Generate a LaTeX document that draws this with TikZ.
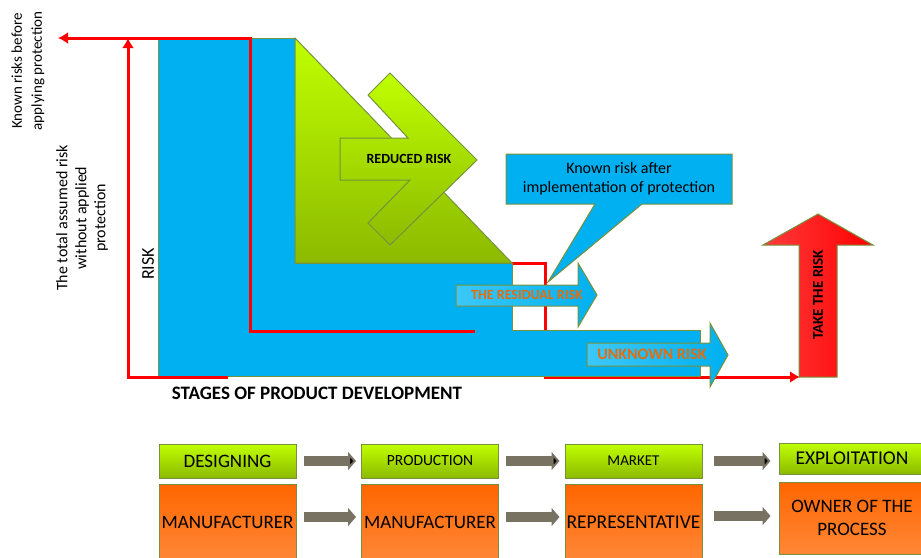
\documentclass[tikz,border=0pt]{standalone}
\usepackage{fontspec}
\setmainfont{Carlito}
\usetikzlibrary{arrows.meta}
\definecolor{skyfill}{RGB}{0,176,240}
\definecolor{skylight}{RGB}{60,200,250}
\definecolor{limetop}{RGB}{192,255,0}
\definecolor{limebot}{RGB}{140,186,0}
\definecolor{edgeolive}{RGB}{118,146,60}
\definecolor{orangetop}{RGB}{255,102,0}
\definecolor{orangebot}{RGB}{255,135,55}
\definecolor{riskred}{RGB}{255,0,0}
\definecolor{risklight}{RGB}{255,60,60}
\definecolor{labelorange}{RGB}{228,108,10}
\definecolor{flowgray}{RGB}{120,114,98}
\tikzset{
  stagebox/.style={draw=edgeolive,line width=1pt,top color=limetop,bottom color=limebot,minimum width=137pt,minimum height=34pt,inner sep=0pt,font=\fontsize{19}{22}\selectfont},
  rolebox/.style={draw=edgeolive,line width=1pt,top color=orangetop,bottom color=orangebot,minimum width=137pt,minimum height=76pt,inner sep=0pt,align=center,font=\fontsize{19}{23}\selectfont},
  flow/.style={draw=flowgray,line width=10pt,-{Triangle[width=18pt,length=8pt]},shorten <=7pt,shorten >=5pt},
  redline/.style={draw=riskred,line width=3pt,-{Latex[length=10pt,width=12pt]}},
  greenpart/.style={draw=edgeolive,line width=1pt,top color=limetop,bottom color=limebot},
  bluepart/.style={draw=edgeolive,line width=1pt,fill=skyfill},
  bluearrow/.style={draw=edgeolive,line width=1pt,left color=skylight,right color=skyfill},
  riskarrow/.style={draw=edgeolive,line width=1pt,left color=risklight,right color=riskred},
  sidetext/.style={rotate=90,align=center,inner sep=0pt},
  arrowtext/.style={text=labelorange,font=\bfseries\fontsize{14}{16}\selectfont,inner sep=0pt}
}
\begin{document}
\begin{tikzpicture}[x=1pt,y=-1pt,line join=miter]
%%
  \useasboundingbox (0,0) rectangle (921,557);
  \draw [redline] (512,263) -| (545,377) -- (800,377);
  \path [bluepart] (158,38) -- (295,38) -- (295,263) -- (512,263) -- (512,330) -- (700,330) -- (700,376) -- (158,376) -- cycle;
  \draw [redline] (228,377) -| (128,38);
  \draw [redline] (475,331) -| (250,38) -- (58,38);
  \path [greenpart] (295,38) -- (295,263) -- (512,263) -- cycle;
  \path [greenpart] (340,138) -- (408,138) -- (368,95) -- (390,73) -- (477,160) -- (390,245) -- (368,223) -- (410,180) -- (340,180) -- cycle;
  \node [inner sep=0pt,font=\bfseries\fontsize{14}{16}\selectfont] (reduced) at (409,159) {REDUCED RISK};
  \path [bluepart] (506,154) -- (732,154) -- (732,204) -- (642,204) -- (548,282) -- (595,204) -- (506,204) -- cycle;
  \node [align=center,inner sep=0pt,font=\fontsize{16}{19}\selectfont] (known_after) at (619,179) {Known risk after\\implementation of protection};
  \path [bluearrow] (456,285) -- (578,285) -- (578,263) -- (597,295) -- (578,327) -- (578,306) -- (456,306) -- cycle;
  \node [arrowtext] (residual) at (527,295) {THE RESIDUAL RISK};
  \path [bluearrow] (587,343) -- (710,343) -- (710,323) -- (728,355) -- (710,387) -- (710,366) -- (587,366) -- cycle;
  \node [arrowtext,font=\bfseries\fontsize{16}{18}\selectfont] (unknown) at (652,354) {UNKNOWN RISK};
  \path [riskarrow] (799,377) -- (837,377) -- (837,245) -- (873,245) -- (818,214) -- (763,245) -- (799,245) -- cycle;
  \node [sidetext,font=\bfseries\fontsize{15}{17}\selectfont] (take) at (818,295) {TAKE THE RISK};
  \node [sidetext,font=\fontsize{15}{20}\selectfont] (known_before) at (28,71) {Known risks before\\applying protection};
  \node [sidetext,font=\fontsize{16}{19}\selectfont] (total) at (82,218) {The total assumed risk\\without applied\\protection};
  \node [sidetext,font=\fontsize{18}{21}\selectfont] (risk) at (148,264) {RISK};
  \node [inner sep=0pt,font=\bfseries\fontsize{19}{22}\selectfont] (stages) at (317,393) {STAGES OF PRODUCT DEVELOPMENT};
%% stages and roles
  \node [stagebox] (stage_0) at (227.5,461) {DESIGNING};
  \node [stagebox,font=\fontsize{15.5}{18}\selectfont] (stage_1) at (430,461) {PRODUCTION};
  \node [stagebox,font=\fontsize{15}{18}\selectfont] (stage_2) at (633.5,461) {MARKET};
  \node [stagebox,minimum width=146pt,minimum height=31pt,font=\fontsize{19.5}{22}\selectfont] (stage_3) at (852,458.5) {EXPLOITATION};
  \node (role_0) at (227.5,522) [rolebox] {MANUFACTURER};
  \node (role_1) at (430,522) [rolebox] {MANUFACTURER};
  \node (role_2) at (633.5,522) [rolebox,font=\fontsize{19.5}{23}\selectfont] {REPRESENTATIVE};
  \node (role_3) at (852,518) [rolebox,minimum width=146pt,minimum height=72pt] {OWNER OF THE\\PROCESS};
  \draw [flow] (stage_0) edge (stage_1);
  \draw [flow] (stage_1) edge (stage_2);
  \draw [flow] (stage_2) edge [shorten <=11pt,shorten >=8pt] (stage_2 -| stage_3.west);
  \draw [flow] ([yshift=5pt]role_0.east) -- ([yshift=5pt]role_1.west);
  \draw [flow] ([yshift=5pt]role_1.east) -- ([yshift=5pt]role_2.west);
  \draw [flow,shorten <=11pt,shorten >=8pt] ([yshift=6pt]role_2.east) -- ([yshift=6pt]role_2.east -| role_3.west);
\end{tikzpicture}
\end{document}
